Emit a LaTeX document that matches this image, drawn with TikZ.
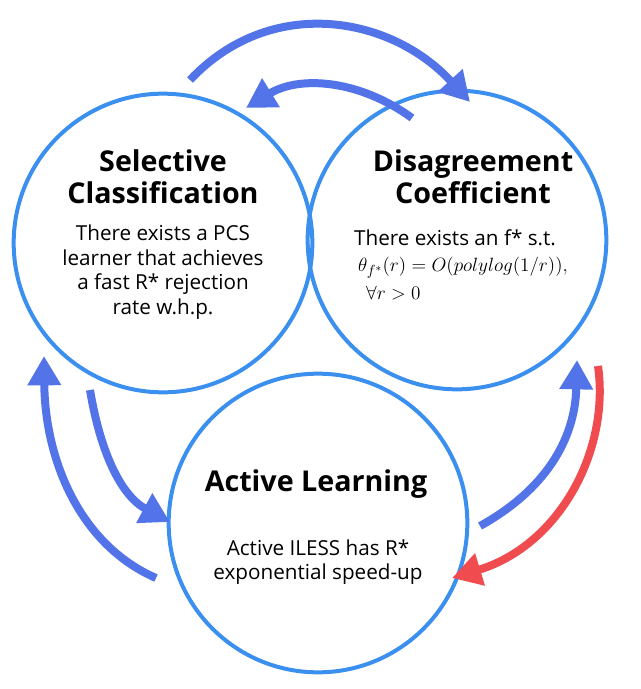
\documentclass[tikz,border=0pt]{standalone}
\usepackage{fontspec}
\setmainfont{Open Sans}
\usetikzlibrary{arrows.meta}
\definecolor{circ}{HTML}{3A8FEF}
\definecolor{arr}{HTML}{5274E8}
\definecolor{red1}{HTML}{F04B4E}
\tikzset{
  bigc/.style={circle,draw=circ,line width=3pt,minimum size=224pt,inner sep=0pt},
  arw/.style={line width=6pt,-{Triangle[length=22pt,width=24pt]}},
  ttl/.style={font=\bfseries\fontsize{21.5}{24}\selectfont,align=center},
  bdy/.style={font=\fontsize{15.5}{18.5}\selectfont,align=center},
}
\begin{document}
\begin{tikzpicture}[x=0.75pt,y=-0.75pt]
\useasboundingbox (0,0) rectangle (640,689);
\node[bigc] (sc) at (163,243) {};
\node[bigc] (dc) at (457,240) {};
\node[bigc] (al) at (318,523) {};
\node[ttl] (sct) at (163,177) {Selective\\Classification};
\node[bdy] (scb) at (163,272) {There exists a PCS\\learner that achieves\\a fast R* rejection\\rate w.h.p.};
\node[ttl] (dct) at (473,177) {Disagreement\\Coefficient};
\node[bdy,align=left] (dcb) at (463,265) {\hspace*{-3pt}There exists an f* s.t.\\[1pt]$\theta_{f^*}(r)=O(polylog(1/r)),$\\[2pt]\hspace*{6pt}$\forall r>0$};
\node[ttl] (alt) at (316,484) {Active Learning};
\node[bdy] (alb) at (318,562) {Active ILESS has R*\\exponential speed-up};
\coordinate (a1s) at (190,80); \coordinate (a1e) at (470,102);
\coordinate (a2s) at (412,118); \coordinate (a2e) at (246,108);
\coordinate (a3s) at (156,578); \coordinate (a3e) at (44,356);
\coordinate (a4s) at (90,390); \coordinate (a4e) at (170,522);
\coordinate (a5s) at (480,526); \coordinate (a5e) at (577,360);
\coordinate (a6s) at (598,366); \coordinate (a6e) at (452,578);
\draw[arw,draw=arr] (a1s) .. controls (270,-5) and (390,15) .. (a1e);
\draw[arw,draw=arr] (a2s) .. controls (360,80) and (300,75) .. (a2e);
\draw[arw,draw=arr] (a3s) .. controls (80,545) and (45,460) .. (a3e);
\draw[arw,draw=arr] (a4s) .. controls (100,450) and (120,495) .. (a4e);
\draw[arw,draw=arr] (a5s) .. controls (545,490) and (575,440) .. (a5e);
\draw[arw,draw=red1] (a6s) .. controls (610,450) and (560,545) .. (a6e);
\end{tikzpicture}
\end{document}
